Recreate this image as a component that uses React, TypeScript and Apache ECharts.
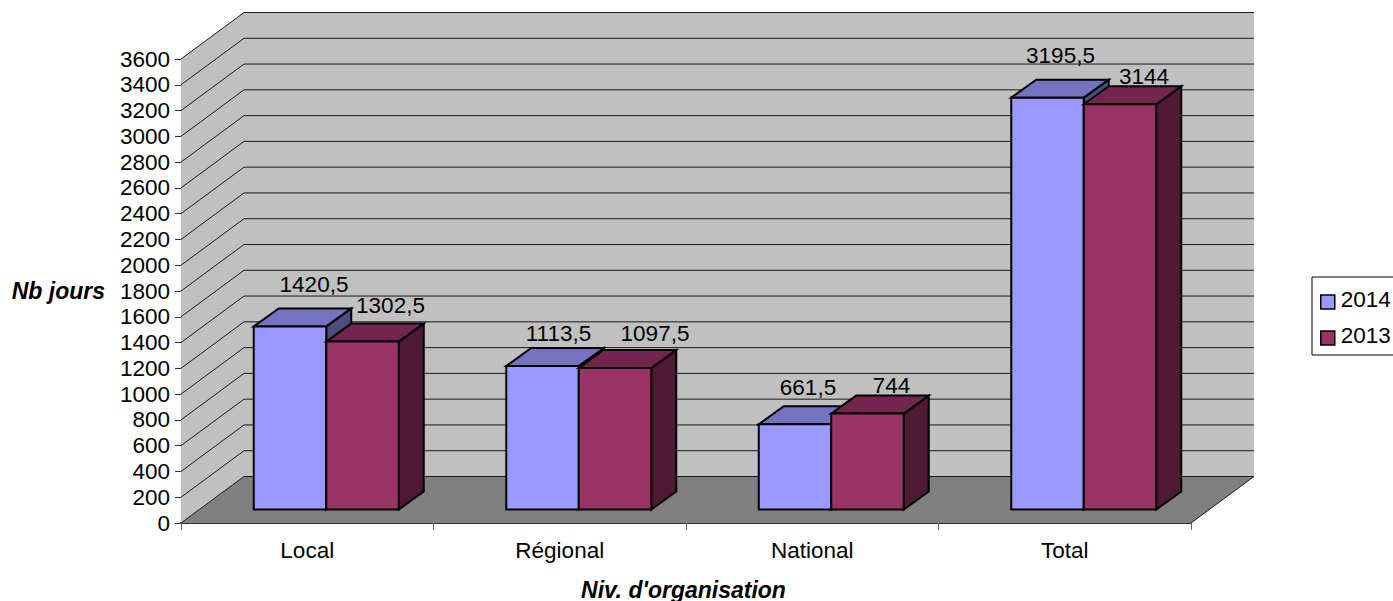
import React, { useEffect, useRef } from "react";
import * as echarts from "echarts";

const categories = ["Local", "Régional", "National", "Total"];
const values2014 = [1420.5, 1113.5, 661.5, 3195.5];
const values2013 = [1302.5, 1097.5, 744, 3144];
const labels2014 = ["1420,5", "1113,5", "661,5", "3195,5"];
const labels2013 = ["1302,5", "1097,5", "744", "3144"];
const yTicks = [0, 200, 400, 600, 800, 1000, 1200, 1400, 1600, 1800, 2000, 2200, 2400, 2600, 2800, 3000, 3200, 3400, 3600];

// label placement relative to the centre of the bar's front top edge
const nudge2014 = [[24, -42], [16, -32], [13, -37], [13, -42]];
const nudge2013 = [[28, -36], [40, -35], [24, -28], [24, -28]];

const FONT = "Liberation Sans, Arial, sans-serif";
const WALL = "#c0c0c0";
const FLOOR = "#808080";
const LINE = "#1a1a1a";
const BACK_X = 63;
const BACK_Y = -46.5;
const BAR_W = 72.5;
const BAR_SHIFT_X = 19;
const BAR_SHIFT_Y = -13.5;
const DEPTH_X = 25;
const DEPTH_Y = -18;

const wallRender = (params: any, api: any) => {
  const cs = params.coordSys;
  const l = cs.x;
  const r = cs.x + cs.width;
  const yOf = (v: number) => api.coord([0, v])[1];
  const y0 = yOf(0);
  const yTop = yOf(3600);
  const children: any[] = [
    { type: "polygon", shape: { points: [[l, yTop], [l + BACK_X, yTop + BACK_Y], [r + BACK_X, yTop + BACK_Y], [r + BACK_X, y0 + BACK_Y], [l + BACK_X, y0 + BACK_Y], [l, y0]] }, style: { fill: WALL } },
    { type: "polygon", shape: { points: [[l, y0], [l + BACK_X, y0 + BACK_Y], [r + BACK_X, y0 + BACK_Y], [r, y0]] }, style: { fill: FLOOR } },
  ];
  yTicks.forEach((v) => {
    const y = yOf(v);
    children.push({
      type: "polyline",
      shape: { points: [[l, y], [l + BACK_X, y + BACK_Y], [r + BACK_X, y + BACK_Y]] },
      style: { fill: "none", stroke: LINE, lineWidth: 1 },
    });
  });
  children.push({
    type: "polyline",
    shape: { points: [[r, y0], [r + BACK_X, y0 + BACK_Y]] },
    style: { fill: "none", stroke: LINE, lineWidth: 1 },
  });
  return { type: "group", children };
};

const barRender = (slot: number, front: string, top: string, side: string, labels: string[], nudges: number[][]) => (params: any, api: any) => {
  const i = api.value(0);
  const p = api.coord([i, api.value(1)]);
  const base = api.coord([i, 0]);
  const x0 = p[0] + BAR_SHIFT_X - BAR_W + slot * BAR_W;
  const x1 = x0 + BAR_W;
  const yT = p[1] + BAR_SHIFT_Y;
  const yB = base[1] + BAR_SHIFT_Y;
  const stroke = { stroke: "#000", lineWidth: 2, lineJoin: "miter" };
  return {
    type: "group",
    children: [
      { type: "polygon", shape: { points: [[x1, yT], [x1 + DEPTH_X, yT + DEPTH_Y], [x1 + DEPTH_X, yB + DEPTH_Y], [x1, yB]] }, style: { fill: side, ...stroke } },
      { type: "polygon", shape: { points: [[x0, yT], [x0 + DEPTH_X, yT + DEPTH_Y], [x1 + DEPTH_X, yT + DEPTH_Y], [x1, yT]] }, style: { fill: top, ...stroke } },
      { type: "polygon", shape: { points: [[x0, yT], [x1, yT], [x1, yB], [x0, yB]] }, style: { fill: front, ...stroke } },
      {
        type: "text",
        x: (x0 + x1) / 2 + nudges[i][0],
        y: yT + nudges[i][1],
        style: { text: labels[i], fill: "#000", font: `22.5px ${FONT}`, align: "center", verticalAlign: "middle" },
      },
    ],
  };
};

export default function App() {
  const ref = useRef<HTMLDivElement>(null);
  useEffect(() => {
    const chart = echarts.init(ref.current!, undefined, { renderer: "svg" });
    chart.setOption({
      animation: false,
      backgroundColor: "#fff",
      grid: { left: 181, right: 202, top: 59, bottom: 78, containLabel: false, outerBoundsMode: "none" },
      legend: {
        show: true,
        orient: "vertical",
        left: 1312,
        top: 277,
        padding: [11, 8, 8, 8],
        itemWidth: 14,
        itemHeight: 14,
        itemGap: 13,
        borderColor: "#000",
        borderWidth: 1,
        backgroundColor: "#fff",
        selectedMode: false,
        formatter: (name: string) => `{t|${name}}`,
        textStyle: {
          fontFamily: FONT, fontSize: 22.5, color: "#000",
          rich: { t: { fontFamily: FONT, fontSize: 22.5, color: "#000", padding: [0, 0, 5, 1] } },
        },
        data: [
          { name: "2014", icon: "rect", itemStyle: { color: "#9999ff", borderColor: "#000", borderWidth: 1.5 } },
          { name: "2013", icon: "rect", itemStyle: { color: "#993366", borderColor: "#000", borderWidth: 1.5 } },
        ],
      },
      xAxis: {
        type: "category",
        data: categories,
        boundaryGap: true,
        name: "Niv. d'organisation",
        nameLocation: "middle",
        nameGap: 55,
        nameTextStyle: { fontFamily: FONT, fontSize: 23, fontWeight: "bold", fontStyle: "italic", color: "#000", padding: [0, 5, 0, 0] },
        axisLine: { show: true, lineStyle: { color: "#333", width: 2 } },
        axisTick: { show: true, alignWithLabel: false, length: 7, lineStyle: { color: "#666", width: 1 } },
        axisLabel: { fontFamily: FONT, fontSize: 22.5, color: "#000", margin: 16 },
        splitLine: { show: false },
      },
      yAxis: {
        type: "value",
        min: 0,
        max: 3600,
        interval: 200,
        name: "Nb jours",
        nameLocation: "middle",
        nameGap: 76,
        nameRotate: 0,
        nameTextStyle: { fontFamily: FONT, fontSize: 23, fontWeight: "bold", fontStyle: "italic", color: "#000" },
        axisLine: { show: true, lineStyle: { color: "#333", width: 1 } },
        axisTick: { show: true, length: 6, lineStyle: { color: "#333", width: 1 } },
        axisLabel: { fontFamily: FONT, fontSize: 22.5, color: "#000", margin: 11, formatter: (v: number) => String(v) },
        splitLine: { show: false },
      },
      series: [
        { type: "custom", name: "walls", silent: true, z: 1, renderItem: wallRender, data: [[0, 0]], encode: { x: 0, y: 1 } },
        {
          type: "custom", name: "2014", z: 3, itemStyle: { color: "#9999ff" },
          renderItem: barRender(0, "#9999ff", "#7373bf", "#4d4d80", labels2014, nudge2014),
          data: values2014.map((v, i) => [i, v]), encode: { x: 0, y: 1 },
        },
        {
          type: "custom", name: "2013", z: 4, itemStyle: { color: "#993366" },
          renderItem: barRender(1, "#993366", "#73264d", "#4d1933", labels2013, nudge2013),
          data: values2013.map((v, i) => [i, v]), encode: { x: 0, y: 1 },
        },
      ],
    });
    return () => chart.dispose();
  }, []);
  return <div ref={ref} style={{ position: "absolute", left: 0, top: 0, width: 1393, height: 601 }} />;
}
